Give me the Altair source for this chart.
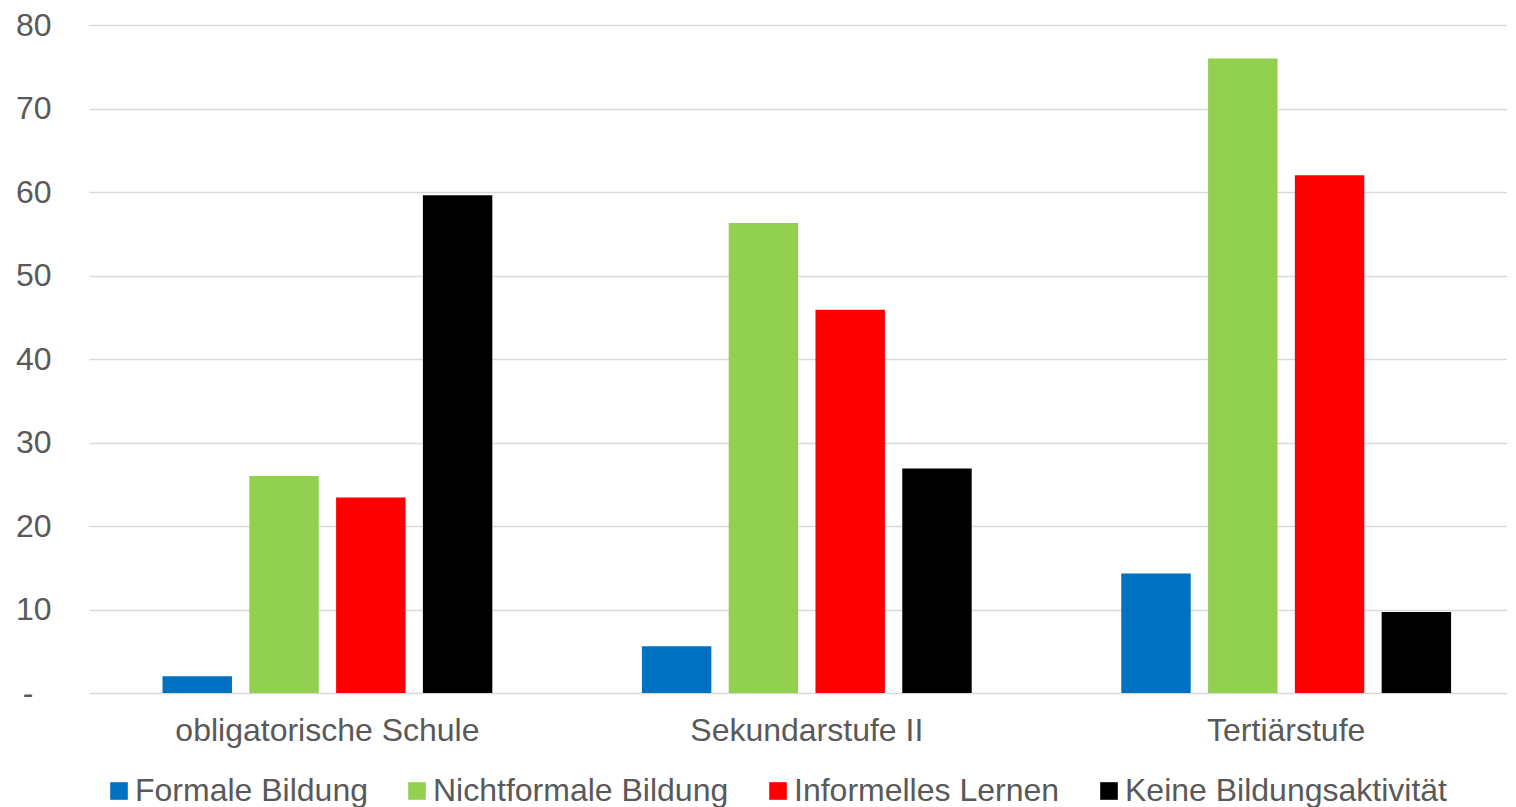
import altair as alt
import pandas as pd

categories = ["obligatorische Schule", "Sekundarstufe II", "Tertiärstufe"]
series = ["Formale Bildung", "Nichtformale Bildung", "Informelles Lernen", "Keine Bildungsaktivität"]
formale = [2.0, 5.6, 14.3]
nichtformale = [26.0, 56.3, 76.0]
informell = [23.4, 45.9, 62.0]
keine = [59.6, 26.9, 9.7]
colors = ["#0070c0", "#92d050", "#ff0000", "#000000"]
y_ticks = [0, 10, 20, 30, 40, 50, 60, 70, 80]

rows = []
for s, vals in zip(series, [formale, nichtformale, informell, keine]):
    for c, v in zip(categories, vals):
        rows.append({"Kategorie": c, "Serie": s, "Wert": v})
df = pd.DataFrame(rows)

font = "Liberation Sans"
txt = "#595959"
fs = 32

chart = alt.Chart(df).mark_bar().encode(
    x=alt.X("Kategorie:N", sort=categories,
            scale=alt.Scale(paddingInner=0.312, paddingOuter=0.135, align=0.568),
            axis=alt.Axis(title=None, labelAngle=0, domain=False, ticks=False,
                          labelPadding=22, labelFontSize=fs, labelColor=txt,
                          labelFont=font, labelLimit=1000)),
    xOffset=alt.XOffset("Serie:N", sort=series,
                        scale=alt.Scale(paddingInner=0.2, paddingOuter=0)),
    y=alt.Y("Wert:Q", scale=alt.Scale(domain=[0, 80], nice=False),
            axis=alt.Axis(title=None, values=y_ticks,
                          labelExpr="datum.value == 0 ? '-' : datum.label",
                          domain=False, ticks=False,
                          labelPadding={"condition": {"test": "datum.value === 0", "value": 56},
                                        "value": 38},
                          labelFontSize=fs, labelColor=txt, labelFont=font,
                          gridColor="#d9d9d9", gridWidth=1.5)),
    color=alt.Color("Serie:N", sort=series,
                    scale=alt.Scale(domain=series, range=colors),
                    legend=alt.Legend(title=None, orient="none", direction="horizontal",
                                      legendX=14, legendY=750, symbolType="square",
                                      symbolSize=310, symbolStrokeWidth=0,
                                      labelFontSize=fs, labelColor=txt, labelFont=font,
                                      labelOffset=0, columnPadding=33, labelLimit=1000)),
).properties(
    width=1418, height=668,
    padding={"left": 7, "top": 1, "right": 0, "bottom": 0},
).configure_view(stroke=None)

chart.save("out.html", embed_options={"renderer": "svg", "actions": False})
